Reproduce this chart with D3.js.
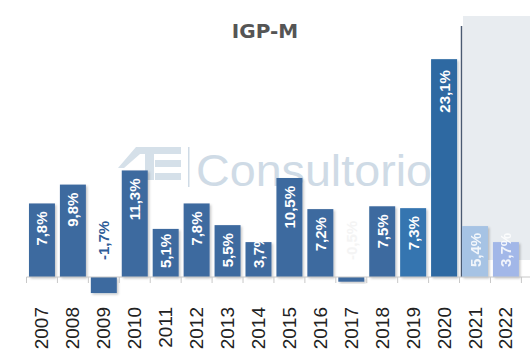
<!DOCTYPE html>
<html><head><meta charset="utf-8">
<script src="https://cdnjs.cloudflare.com/ajax/libs/d3/7.8.5/d3.min.js"></script>
<style>body{margin:0;background:#fff}svg{display:block}</style>
</head><body>
<svg id="c" width="530" height="352"></svg>
<script>
const years = ["2007","2008","2009","2010","2011","2012","2013","2014","2015","2016","2017","2018","2019","2020","2021","2022"];
const values = [7.8, 9.8, -1.7, 11.3, 5.1, 7.8, 5.5, 3.7, 10.5, 7.2, -0.5, 7.5, 7.3, 23.1, 5.4, 3.7];
const labels = ["7,8%","9,8%","-1,7%","11,3%","5,1%","7,8%","5,5%","3,7%","10,5%","7,2%","-0,5%","7,5%","7,3%","23,1%","5,4%","3,7%"];
const projectedYears = ["2021","2022"];
const title = "IGP-M";
const watermark = "Consultorio";

const svg = d3.select("#c");
const defs = svg.append("defs");
const f = defs.append("filter").attr("id","sh").attr("x","-20%").attr("y","-20%").attr("width","150%").attr("height","150%");
f.append("feDropShadow").attr("dx",1.5).attr("dy",1.5).attr("stdDeviation",1.2).attr("flood-color","#000").attr("flood-opacity",0.22);

const x = d3.scaleBand().domain(years).range([26.5, 521.4]).paddingInner(0.16).paddingOuter(0.08);
const y = d3.scaleLinear().domain([-2, 25]).range([295.86, 41.25]);

// projection shading
svg.append("rect").attr("x",463).attr("y",16).attr("width",67).attr("height",244).attr("fill","#e8ecf0");

// watermark logo
const wm = svg.append("g").attr("fill","#d5e0e9");
wm.append("polygon").attr("points","136,147 181,147 181,154 140,154 124,168 118,168");
wm.append("rect").attr("x",155).attr("y",160).attr("width",26).attr("height",7);
wm.append("rect").attr("x",155).attr("y",173).attr("width",26).attr("height",7);
wm.append("rect").attr("x",145).attr("y",154).attr("width",9).attr("height",26);
wm.append("rect").attr("x",188).attr("y",147).attr("width",1.5).attr("height",40).attr("fill","#cfdbe6");
svg.append("text").attr("x",196).attr("y",186).attr("font-family","Liberation Sans, Arial, sans-serif")
  .attr("font-size",45).attr("textLength",236).attr("lengthAdjust","spacingAndGlyphs")
  .attr("fill","#cfdbe6").text(watermark);

// title
svg.append("text").attr("x",265).attr("y",38).attr("text-anchor","middle")
  .attr("font-family","DejaVu Sans, sans-serif").attr("font-weight","bold").attr("font-size",20)
  .attr("fill","#555").text(title);

const colorOf = yr => yr === "2019" ? "#3474b0" : yr === "2020" ? "#2d69a2" : yr === "2021" ? "#a6c3e4" : yr === "2022" ? "#a2b7e8" : "#3e6a9f";

// projection divider
svg.append("line").attr("x1",461.5).attr("x2",461.5).attr("y1",26).attr("y2",y(0)).attr("stroke","#4a5a72").attr("stroke-width",1.5);

// bars
svg.append("g").selectAll("rect").data(years).join("rect")
  .attr("x", d => x(d)).attr("width", x.bandwidth())
  .attr("y", (d,i) => y(Math.max(0, values[i])))
  .attr("height", (d,i) => Math.abs(y(values[i]) - y(0)))
  .attr("fill", colorOf).attr("filter","url(#sh)");

// axis
const axisG = svg.append("g").attr("transform",`translate(0,${y(0)})`);
axisG.append("line").attr("x1",26.5).attr("x2",530).attr("stroke","#c8c8c8");
const step = x.step();
axisG.selectAll("line.t").data(d3.range(years.length+1)).join("line").attr("class","t")
  .attr("x1", i => x(years[0]) - x.paddingInner()*step/2 + i*step)
  .attr("x2", i => x(years[0]) - x.paddingInner()*step/2 + i*step)
  .attr("y1",0).attr("y2",6).attr("stroke","#c8c8c8");
axisG.selectAll("text").data(years).join("text")
  .attr("transform", d => `translate(${x(d)+x.bandwidth()/2+6.5},30) rotate(-90)`)
  .attr("text-anchor","end").attr("font-family","Liberation Sans Narrow, Arial Narrow, sans-serif")
  .attr("font-size",19).attr("fill","#222").text(d => d);

// value labels
const fs = 15;
svg.append("g").selectAll("text").data(years).join("text")
  .each(function(d,i){
    const v = values[i];
    const t = d3.select(this).attr("font-family","Liberation Sans, Arial, sans-serif")
      .attr("font-weight","bold").attr("font-size",fs).text(labels[i]);
    const len = this.getComputedTextLength();
    const cx = x(d) + x.bandwidth()/2 + 5.5;
    let top, fill = "#fff", op = 1;
    if (v < 0) {
      top = y(0) - 17 - len;
      fill = d === "2009" ? "#2f5d98" : "#f4f4f4";
    } else if (projectedYears.includes(d)) {
      top = y(0) - 10 - len; op = 0.85;
    } else {
      top = y(v) + (d === "2020" ? 11 : 8);
      if (top + len > y(0) - 9) top = y(0) - 9 - len;
    }
    t.attr("transform",`translate(${cx},${top}) rotate(-90)`).attr("text-anchor","end")
      .attr("fill",fill).attr("opacity",op);
  });
</script>
</body></html>
